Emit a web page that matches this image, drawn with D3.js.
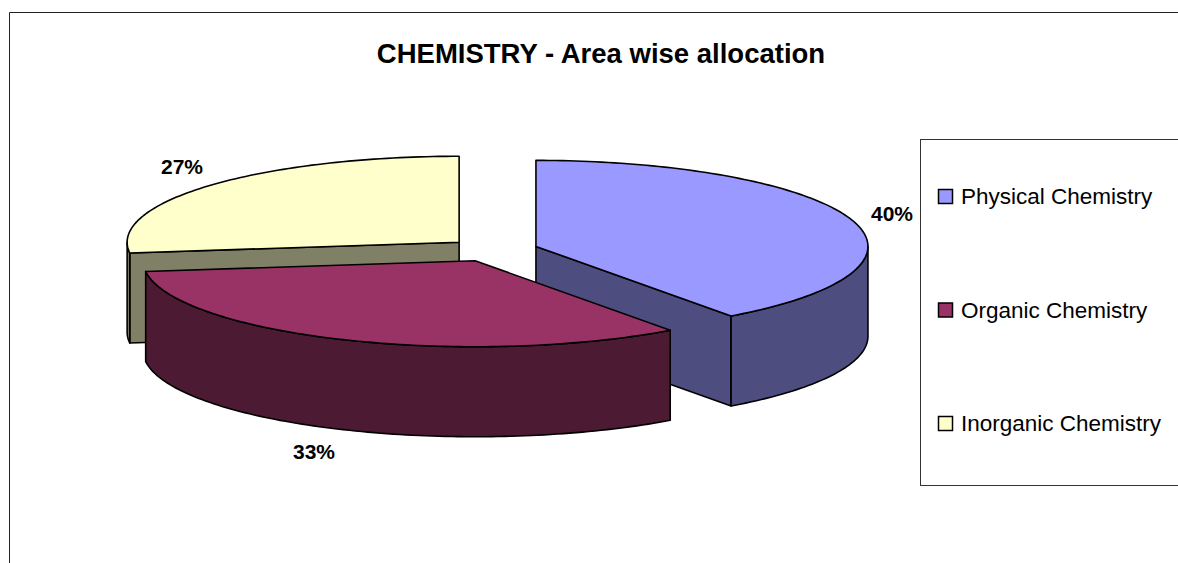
<!DOCTYPE html>
<html><head><meta charset="utf-8">
<script src="https://cdn.jsdelivr.net/npm/d3@7/dist/d3.min.js"></script>
<style>html,body{margin:0;padding:0;background:#fff;overflow:hidden}svg{display:block}text{font-family:"Liberation Sans",Arial,sans-serif;fill:#000}</style>
</head><body><svg id="c" width="1178" height="563"></svg>
<script>
const categories = ["Physical Chemistry", "Organic Chemistry", "Inorganic Chemistry"];
const values = [40, 33, 27];
const topColors = ["#9999ff", "#993366", "#ffffcc"];
const sideColors = ["#4d4d80", "#4d1a33", "#808066"];
const titleText = "CHEMISTRY - Area wise allocation";

const W = 1178, H = 563;
const cx = 493, cy = 250, rx = 332, ry = 86, depth = 90, explode = 0.136;
const svg = d3.select("#c");

// chart frame (open at right and bottom, cropped by the picture)
svg.append("path").attr("d", d3.line()([[9.5, H], [9.5, 12.5], [W, 12.5]]))
  .attr("fill", "none").attr("stroke", "#222").attr("stroke-width", 1);

svg.append("text").attr("x", 601).attr("y", 63).attr("text-anchor", "middle")
  .attr("font-weight", "bold").attr("font-size", 27.5).text(titleText);

const pie = d3.pie().sort(null).startAngle(0).endAngle(2 * Math.PI);
const arcs = pie(values).map((a, i) => {
  const mid = (a.startAngle + a.endAngle) / 2;
  return { ...a, i, ox: cx + explode * rx * Math.sin(mid), oy: cy - explode * ry * Math.cos(mid) };
});
const pt = (d, t, dz = 0) => [d.ox + rx * Math.sin(t), d.oy - ry * Math.cos(t) + dz];
const rim = (d, a0, a1, dz = 0) => {
  const n = Math.max(2, Math.ceil(Math.abs(a1 - a0) / 0.02));
  return d3.range(n + 1).map(k => pt(d, a0 + (a1 - a0) * k / n, dz));
};
const line = d3.line();
const closed = p => line(p) + "Z";
const HALF = Math.PI / 2, TQ = 3 * Math.PI / 2;
const stroke = s => s.attr("stroke", "#000").attr("stroke-width", 1.6).attr("stroke-linejoin", "round");

// draw order: back slice first, front slice last
[2, 0, 1].forEach(idx => {
  const d = arcs[idx];
  const g = svg.append("g");
  const side = sideColors[d.i];
  // radial walls facing the viewer
  const walls = [];
  if (Math.sin(d.startAngle) < 0 && d.startAngle > Math.PI) walls.push(d.startAngle);
  if (d.endAngle < Math.PI && d.endAngle > HALF) walls.push(d.endAngle);
  walls.forEach(t => {
    const o = [d.ox, d.oy], p = pt(d, t);
    g.append("path").attr("d", closed([o, p, [p[0], p[1] + depth], [o[0], o[1] + depth]]))
      .attr("fill", side).call(stroke);
  });
  // outer curved wall
  const a0 = Math.max(d.startAngle, HALF), a1 = Math.min(d.endAngle, TQ);
  if (a1 > a0) {
    g.append("path").attr("d", closed(rim(d, a0, a1).concat(rim(d, a1, a0, depth))))
      .attr("fill", side).call(stroke);
  }
  // top face
  g.append("path").attr("d", closed([[d.ox, d.oy]].concat(rim(d, d.startAngle, d.endAngle))))
    .attr("fill", topColors[d.i]).call(stroke);
});

// value labels
const labelPos = [[892, 221], [314, 459], [182, 174]];
values.forEach((v, i) => {
  svg.append("text").attr("x", labelPos[i][0]).attr("y", labelPos[i][1]).attr("text-anchor", "middle")
    .attr("font-weight", "bold").attr("font-size", 21).text(v + "%");
});

// legend
svg.append("rect").attr("x", 920.5).attr("y", 139.5).attr("width", 270).attr("height", 346)
  .attr("fill", "#fff").attr("stroke", "#333").attr("stroke-width", 1);
const legendY = d3.scalePoint().domain(categories).range([196, 423]);
categories.forEach((c, i) => {
  const y = legendY(c);
  svg.append("rect").attr("x", 938.5).attr("y", y - 6.5).attr("width", 14).attr("height", 14)
    .attr("fill", topColors[i]).attr("stroke", "#000").attr("stroke-width", 1.5);
  svg.append("text").attr("x", 961).attr("y", y + 8).attr("font-size", 22.5).text(c);
});
</script></body></html>
